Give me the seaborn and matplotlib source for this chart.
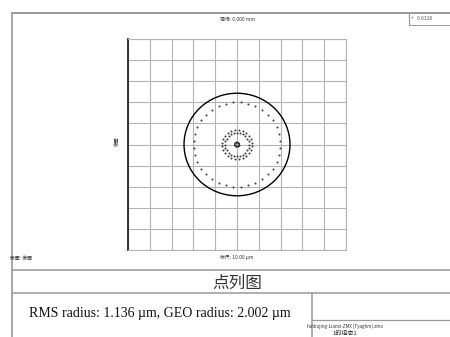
import numpy as np
import pandas as pd
import seaborn as sns
import matplotlib.pyplot as plt
from matplotlib.patches import Circle

# spot diagram data (µm): ray rings as radius / ray count
ring_radius = [0.10, 0.55, 0.70, 2.00]
ring_count = [6, 24, 24, 36]
ring_offset_deg = [0, 0, 7.5, 5]
airy_radius = 2.43
wavelength = '0.6328'
rms_radius = 1.136
geo_radius = 2.002

rows = []
for r, n, off in zip(ring_radius, ring_count, ring_offset_deg):
    ang = np.deg2rad(off + 360.0 / n * np.arange(n))
    for a in ang:
        rows.append({'x': r * np.cos(a), 'y': r * np.sin(a)})
spots = pd.DataFrame(rows)

sns.set_style('white')
plt.rcParams['font.family'] = ['Noto Sans CJK SC', 'DejaVu Sans']

W, H = 450, 337
fig = plt.figure(figsize=(4.5, 3.37), dpi=100)

# page frame in pixel coords
bg = fig.add_axes([0, 0, 1, 1])
bg.set_xlim(0, W)
bg.set_ylim(H, 0)
bg.axis('off')
gray = '#999999'
bg.plot([12, W], [13, 13], color=gray, lw=1.4)
bg.plot([12, 12], [13, H], color=gray, lw=1.2)
bg.plot([12, W], [270, 270], color=gray, lw=1.1)
bg.plot([12, W], [293, 293], color=gray, lw=1.1)
bg.plot([312, 312], [293, H], color=gray, lw=1.1)
bg.plot([312, W], [320, 320], color=gray, lw=0.9)
bg.plot([409, 409], [13, 25], color=gray, lw=0.9)
bg.plot([409, W], [25, 25], color=gray, lw=0.7)

bg.text(237, 19, '视场: 0.000 mm', fontsize=3.5, ha='center', va='center', color='#333333')
bg.text(422, 19, '+   ' + wavelength, fontsize=3.5, ha='center', va='center', color='#555555')
bg.text(117, 141, '像面', fontsize=3.5, ha='center', va='center', rotation=90, color='#333333')
bg.text(10, 258, '表面: 像面', fontsize=3.5, ha='left', va='center', color='#333333')
bg.text(237, 258, '标尺: 10.00 µm', fontsize=3.5, ha='center', va='center', color='#333333')
bg.text(237, 283, '点列图', fontsize=12, ha='center', va='center', color='#333333')
bg.text(160, 313, f'RMS radius: {rms_radius:.3f} µm, GEO radius: {geo_radius:.3f} µm',
        fontsize=10, ha='center', va='center', family='Liberation Serif', color='#111111')
bg.text(345, 326, 'fanbojing-Lianxi-ZMX (Tyaghm).zmx', fontsize=3.3, ha='center',
        va='center', color='#333333')
bg.text(345, 333, '1的组态1', fontsize=4.3, ha='center', va='center', color='#222222')

# spot axes
ax = fig.add_axes([128 / W, (H - 250) / H, 218 / W, 211 / H])
sns.scatterplot(data=spots, x='x', y='y', s=2.2, color='#444444', linewidth=0, ax=ax)
ax.scatter([0], [0], s=12, facecolor='none', edgecolor='#222222', linewidth=0.8)
ax.add_patch(Circle((0, 0), airy_radius, fill=False, color='black', lw=1.0))
ax.set_xlim(-5, 5)
ax.set_ylim(-5, 5)
ax.set_xticks(np.arange(-5, 6, 1))
ax.set_yticks(np.arange(-5, 6, 1))
ax.grid(True, color='#b4b4b4', lw=0.8)
ax.tick_params(length=0, labelbottom=False, labelleft=False)
ax.set_xlabel('')
ax.set_ylabel('')
for s in ['top', 'right', 'bottom']:
    ax.spines[s].set_color('#b4b4b4')
    ax.spines[s].set_linewidth(0.8)
ax.spines['left'].set_color('#222222')
ax.spines['left'].set_linewidth(1.3)
ax.set_facecolor('white')

fig.savefig('out.png', dpi=100)
